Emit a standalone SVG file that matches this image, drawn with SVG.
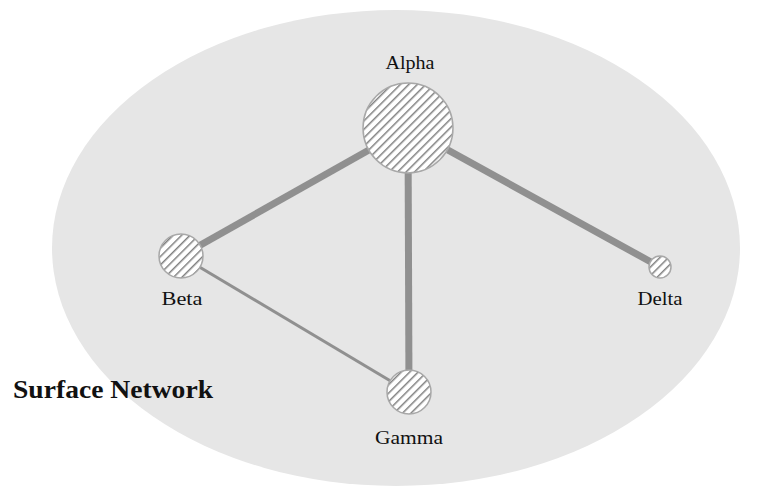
<svg xmlns="http://www.w3.org/2000/svg" width="760" height="496" viewBox="0 0 760 496">
  <defs>
    <pattern id="hatch" patternUnits="userSpaceOnUse" width="6" height="6" patternTransform="rotate(45)">
      <rect width="6" height="6" fill="#ffffff"/>
      <line x1="0" y1="0" x2="0" y2="6" stroke="#808080" stroke-width="3"/>
    </pattern>
  </defs>
  <style>
    .bg { fill: #e6e6e6; }
    .edge { stroke: #909090; fill: none; }
    .node circle { fill: url(#hatch); stroke: #a8a8a8; stroke-width: 1.5; }
    .lbl { font-family: "Liberation Serif", "Times New Roman", serif; font-size: 19px; fill: #111; text-anchor: middle; }
    .title { font-family: "Liberation Serif", "Times New Roman", serif; font-size: 25px; font-weight: bold; fill: #111; }
  </style>
  <rect width="760" height="496" fill="#ffffff"/>
  <ellipse class="bg" cx="396" cy="248" rx="344" ry="238"/>
  <text class="title" x="13" y="398" textLength="200" lengthAdjust="spacingAndGlyphs">Surface Network</text>
  <g id="connectors">
    <line class="edge" x1="408" y1="128" x2="181" y2="256" stroke-width="7"/>
    <line class="edge" x1="408" y1="128" x2="409" y2="392" stroke-width="7"/>
    <line class="edge" x1="408" y1="128" x2="660" y2="267" stroke-width="7"/>
    <line class="edge" x1="181" y1="256" x2="409" y2="392" stroke-width="3"/>
  </g>
  <g id="node-alpha" class="node">
    <circle cx="408" cy="128" r="45"/>
    <text class="lbl" x="410" y="69" textLength="49" lengthAdjust="spacingAndGlyphs">Alpha</text>
  </g>
  <g id="node-beta" class="node">
    <circle cx="181" cy="256" r="22"/>
    <text class="lbl" x="182" y="305" textLength="41" lengthAdjust="spacingAndGlyphs">Beta</text>
  </g>
  <g id="node-delta" class="node">
    <circle cx="660" cy="267" r="11"/>
    <text class="lbl" x="660" y="305" textLength="45" lengthAdjust="spacingAndGlyphs">Delta</text>
  </g>
  <g id="node-gamma" class="node">
    <circle cx="409" cy="392" r="22"/>
    <text class="lbl" x="409" y="444" textLength="68" lengthAdjust="spacingAndGlyphs">Gamma</text>
  </g>
</svg>
